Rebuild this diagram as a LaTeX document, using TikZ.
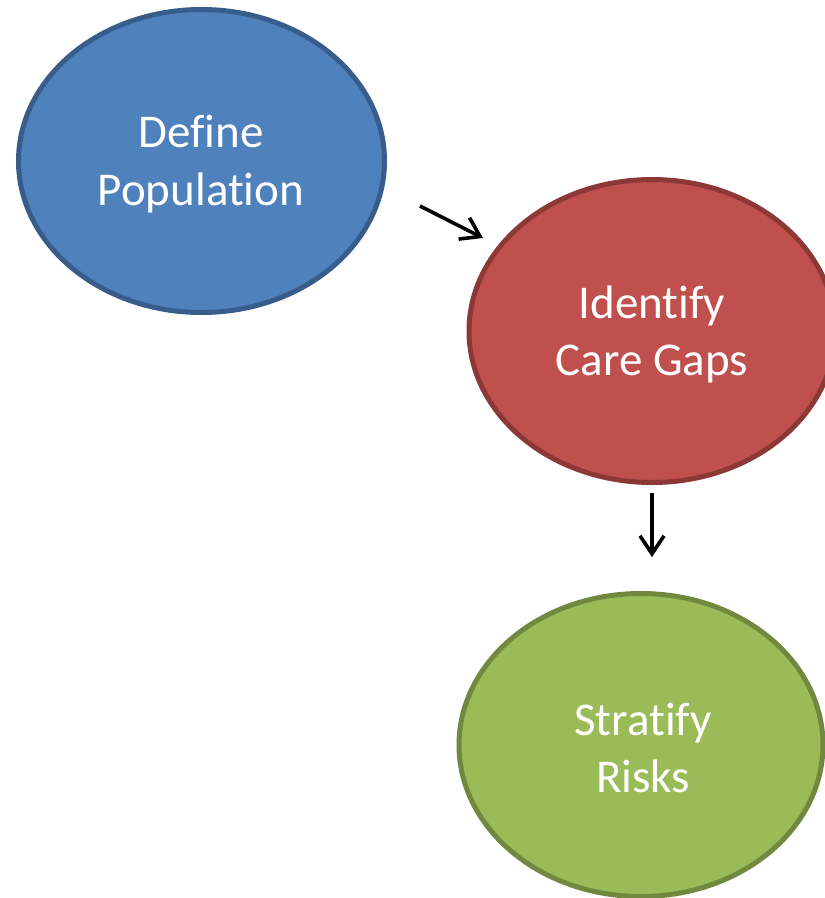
\documentclass[tikz,border=0pt]{standalone}
\usepackage{fontspec}
\setmainfont{Carlito}[Ligatures={NoCommon}]
\usetikzlibrary{shapes.geometric,arrows.meta}
\definecolor{bluefill}{HTML}{4F81BD}
\definecolor{blueline}{HTML}{385D8A}
\definecolor{redfill}{HTML}{C0504D}
\definecolor{redline}{HTML}{8C3836}
\definecolor{greenfill}{HTML}{9BBB59}
\definecolor{greenline}{HTML}{71893F}
\tikzset{
  bubble/.style={ellipse, inner sep=0pt, line width=5pt, minimum width=366pt, minimum height=303pt},
  lbl/.style={text=white, font=\fontsize{47}{58}\selectfont, anchor=base, inner sep=0pt},
  flow/.style={line width=3.6pt, -{Straight Barb[length=18pt,width=24pt,line width=3.6pt]}}
}
\begin{document}
\begin{tikzpicture}[x=1pt,y=-1pt]
\useasboundingbox (0,0) rectangle (825,898);
\clip (0,0) rectangle (825,898);
\node[bubble, fill=bluefill, draw=blueline] (pop) at (201.5,161) {};
\node[bubble, fill=redfill, draw=redline] (gaps) at (652,331) {};
\node[bubble, fill=greenfill, draw=greenline, minimum width=364pt] (risk) at (641,745) {};
\node[lbl] (pop1) at (201,147) {Define};
\node[lbl] (pop2) at (201,205) {Population};
\node[lbl] (gaps1) at (652,318) {Identify};
\node[lbl] (gaps2) at (652,375) {Care Gaps};
\node[lbl] (risk1) at (643,735) {Stratify};
\node[lbl] (risk2) at (643,792) {Risks};
\coordinate (a1s) at (420,206);
\coordinate (a1e) at (483,238);
\coordinate (a2s) at (652,493);
\coordinate (a2e) at (652,557);
\draw[flow] (a1s) -- (a1e);
\draw[flow] (a2s) -- (a2e);
\end{tikzpicture}
\end{document}
